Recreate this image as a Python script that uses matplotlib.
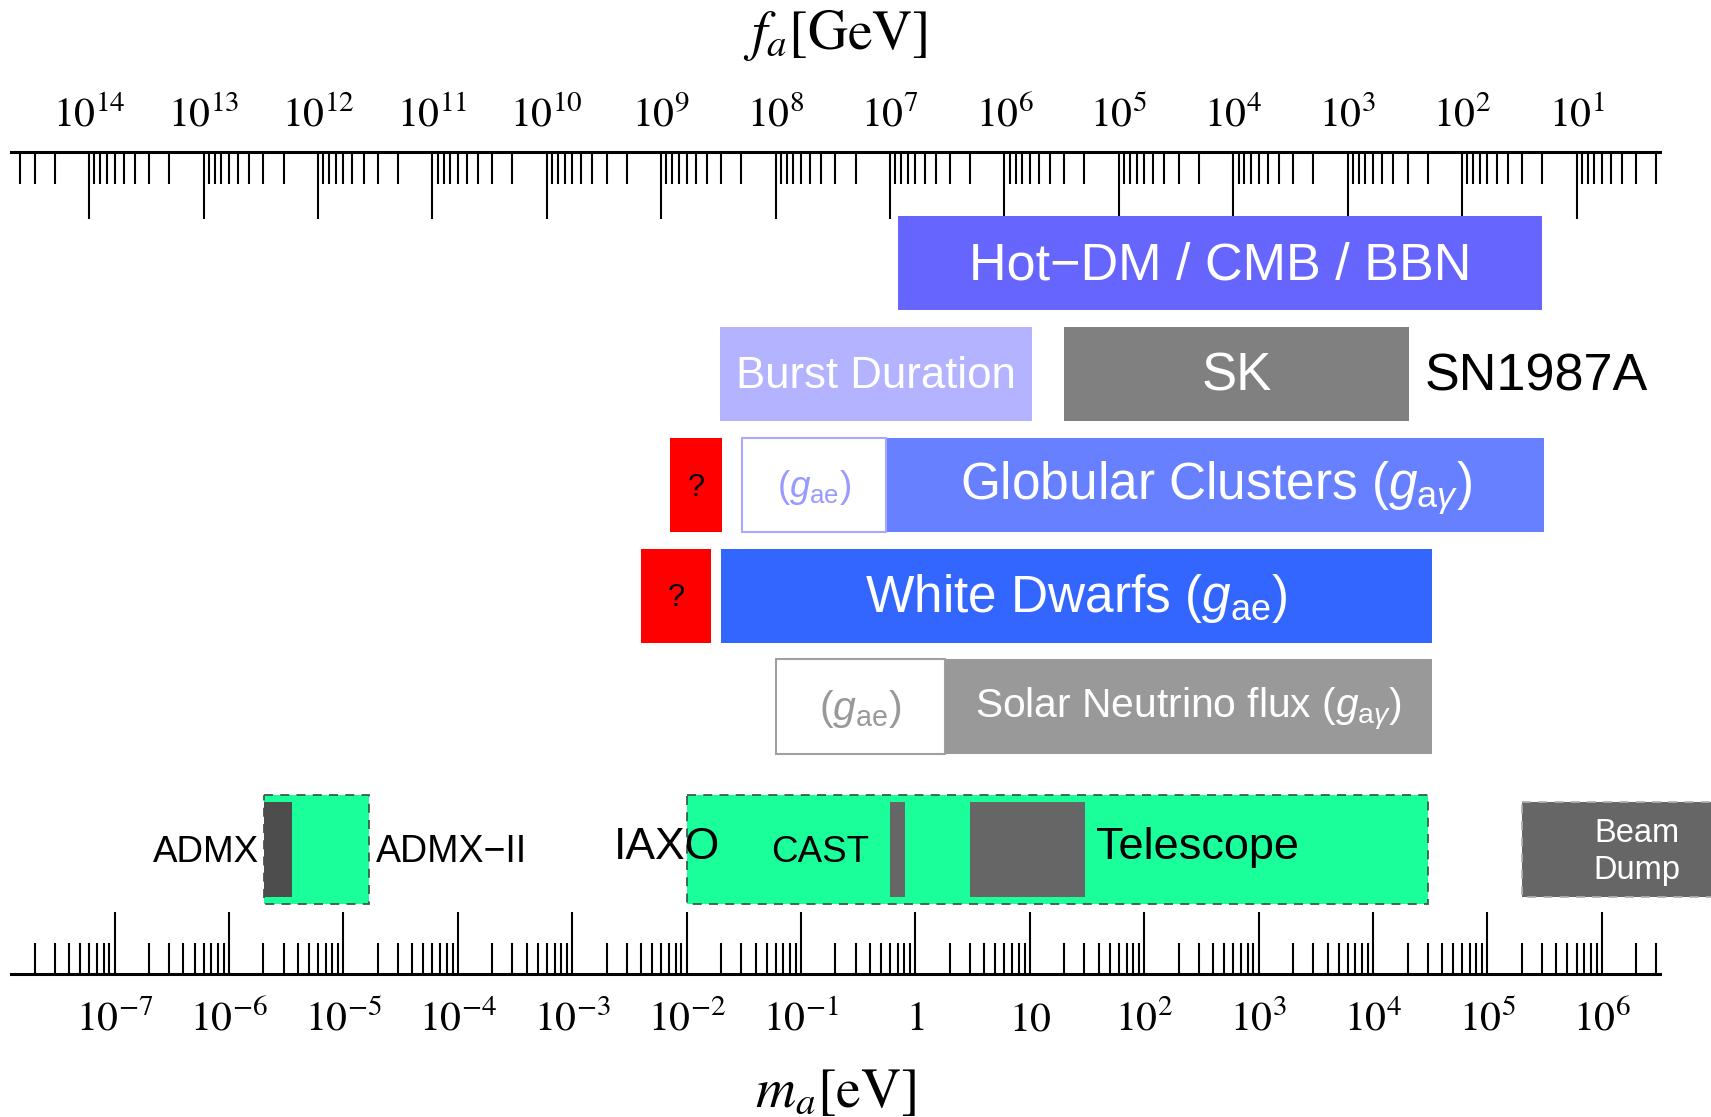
import numpy as np
import matplotlib
matplotlib.use('Agg')
import matplotlib.pyplot as plt
from matplotlib.ticker import LogLocator, FixedLocator, FuncFormatter, NullFormatter

# fonts: Times-like (stix) for axes, Helvetica-like for the labels in the boxes
plt.rcParams['font.family'] = ['Liberation Sans', 'DejaVu Sans']
plt.rcParams['mathtext.fontset'] = 'stix'
plt.rcParams['mathtext.rm'] = 'Liberation Sans'
plt.rcParams['mathtext.it'] = 'Liberation Sans:italic'
plt.rcParams['mathtext.bf'] = 'Liberation Sans:bold'

# f_a [GeV] * m_a [eV]
FA_MA = 6.0e6

# labelled decades on both axes
m_decades = list(range(-7, 7))
f_decades = list(range(1, 15))

# mass ranges in eV, [low, high]
hot_m = [0.70, 3.0e5]
burst_m = [0.0196, 10.5]
sk_m = [19.9, 2.06e4]
gc_q_m = [7.1e-3, 2.05e-2]
gc_gae_m = [0.0304, 0.552]
gc_m = [0.565, 3.13e5]
wd_q_m = [4.03e-3, 1.64e-2]
wd_m = [0.020, 3.26e4]
sol_gae_m = [0.0601, 1.81]
sol_m = [1.81, 3.26e4]
admx_ii_m = [2.01e-6, 1.69e-5]
admx_m = [2.01e-6, 3.56e-6]
iaxo_m = [1.01e-2, 3.05e4]
cast_m = [0.604, 0.803]
tele_m = [3.0, 30.1]
beam_m = [2.02e5, 1.0e8]

# row of each band (0 = top)
rows = {'hot': 0, 'sn': 1, 'gc': 2, 'wd': 3, 'sol': 4, 'exp': 5.29}

fig = plt.figure(figsize=(17.11, 11.17), dpi=100)
ax = fig.add_axes([0.0064, 0.1276, 0.9638, 0.7366])
ax.set_xscale('log')
ax.set_xlim(10**-7.906, 10**6.508)
ax.set_ylim(6.417, -1.004)


def band(m, row, color, h=0.85, **kw):
    ax.barh(row, m[1] - m[0], left=m[0], height=h, color=color, **kw)


def mid(m):
    return np.sqrt(m[0] * m[1])


def label(x, y, s, size, color='white', ha='center', **kw):
    # text sits a touch lower than the plain centre in the original
    ax.text(x, y + 0.025, s, fontsize=size, color=color, ha=ha, va='center',
            math_fontfamily='custom', **kw)


# cosmology
band(hot_m, rows['hot'], '#6666ff')
label(mid(hot_m), rows['hot'], 'Hot\u2212DM / CMB / BBN', 37.5)

# SN1987A
band(burst_m, rows['sn'], '#b3b3ff')
band(sk_m, rows['sn'], '#808080')
label(mid(burst_m), rows['sn'], 'Burst Duration', 31.5)
label(mid(sk_m), rows['sn'], 'SK', 38)
label(2.8e4, rows['sn'], 'SN1987A', 37.5, color='black', ha='left')

# globular clusters
band(gc_q_m, rows['gc'], '#ff0000')
band(gc_gae_m, rows['gc'], 'white', edgecolor='#a8a8ff', linewidth=1.5)
band(gc_m, rows['gc'], '#6680ff')
label(mid(gc_q_m), rows['gc'], '?', 22, color='black')
label(mid(gc_gae_m), rows['gc'], r'($g_{\mathrm{ae}}$)', 26.5, color='#9999ff')
label(mid(gc_m), rows['gc'], r'Globular Clusters ($g_{\mathrm{a}\gamma}$)', 37)

# white dwarfs
band(wd_q_m, rows['wd'], '#ff0000')
band(wd_m, rows['wd'], '#3366ff')
label(mid(wd_q_m), rows['wd'], '?', 22, color='black')
label(mid(wd_m), rows['wd'], r'White Dwarfs ($g_{\mathrm{ae}}$)', 37)

# solar neutrinos
band(sol_gae_m, rows['sol'], 'white', edgecolor='#a0a0a0', linewidth=1.5)
band(sol_m, rows['sol'], '#999999')
label(mid(sol_gae_m), rows['sol'], r'($g_{\mathrm{ae}}$)', 29.5, color='#999999')
label(mid(sol_m), rows['sol'], r'Solar Neutrino flux ($g_{\mathrm{a}\gamma}$)', 29.3)

# experiments
y5 = rows['exp']
band(admx_ii_m, y5, '#1aff9a', h=0.99, edgecolor='#3d5c4c', linewidth=1.3,
     linestyle=(0, (5, 4)))
band(iaxo_m, y5, '#1aff9a', h=0.99, edgecolor='#3d5c4c', linewidth=1.3,
     linestyle=(0, (5, 4)))
band(admx_m, y5, '#4d4d4d')
band(cast_m, y5, '#666666')
band(tele_m, y5, '#666666')
band(beam_m, y5, '#666666', edgecolor='#b0b0b0', linewidth=1.3,
     linestyle=(0, (5, 4)), clip_on=False)

label(10**-5.74, y5, 'ADMX', 26.5, color='black', ha='right')
label(10**-4.72, y5, 'ADMX\u2212II', 27, color='black', ha='left')
label(10**-2.17, y5 - 0.04, 'IAXO', 32, color='black')
label(10**-0.83, y5, 'CAST', 26.5, color='black')
label(10**1.58, y5 - 0.04, 'Telescope', 32.5, color='black', ha='left')
label(10**6.31, y5, 'Beam\nDump', 23.5, linespacing=1.25)

# axes: m_a at the bottom, f_a on top
for s in ['left', 'right', 'top']:
    ax.spines[s].set_visible(False)
ax.spines['bottom'].set_linewidth(2.2)
ax.set_yticks([])


def m_to_f(m):
    with np.errstate(divide='ignore'):
        return FA_MA / np.asarray(m, dtype=float)


def m_label(v, pos):
    n = int(round(np.log10(v)))
    if n == 0:
        return '$1$'
    if n == 1:
        return '$10$'
    return '$10^{%d}$' % n


def f_label(v, pos):
    return '$10^{%d}$' % int(round(np.log10(v)))


ax.xaxis.set_major_locator(FixedLocator([10.0**n for n in m_decades]))
ax.xaxis.set_minor_locator(LogLocator(base=10, subs=np.arange(2, 10), numticks=40))
ax.xaxis.set_major_formatter(FuncFormatter(m_label))
ax.xaxis.set_minor_formatter(NullFormatter())
ax.tick_params(axis='x', which='major', direction='in', length=45, width=1.5,
               labelsize=30, pad=18)
ax.tick_params(axis='x', which='minor', direction='in', length=22, width=1.5)

secax = ax.secondary_xaxis('top', functions=(m_to_f, m_to_f))
secax.xaxis.set_major_locator(FixedLocator([10.0**n for n in f_decades]))
secax.xaxis.set_minor_locator(LogLocator(base=10, subs=np.arange(2, 10), numticks=40))
secax.xaxis.set_major_formatter(FuncFormatter(f_label))
secax.xaxis.set_minor_formatter(NullFormatter())
secax.tick_params(which='major', direction='in', length=48, width=1.5,
                  labelsize=30, pad=12)
secax.tick_params(which='minor', direction='in', length=23, width=1.5)
secax.spines['top'].set_linewidth(2.2)

fig.text(0.488, 0.968, '$f_a$[GeV]', fontsize=40, ha='center', va='center',
         family='STIXGeneral', math_fontfamily='stix')
fig.text(0.488, 0.021, '$m_a$[eV]', fontsize=40, ha='center', va='center',
         family='STIXGeneral', math_fontfamily='stix')

fig.savefig('out.png', dpi=100)
